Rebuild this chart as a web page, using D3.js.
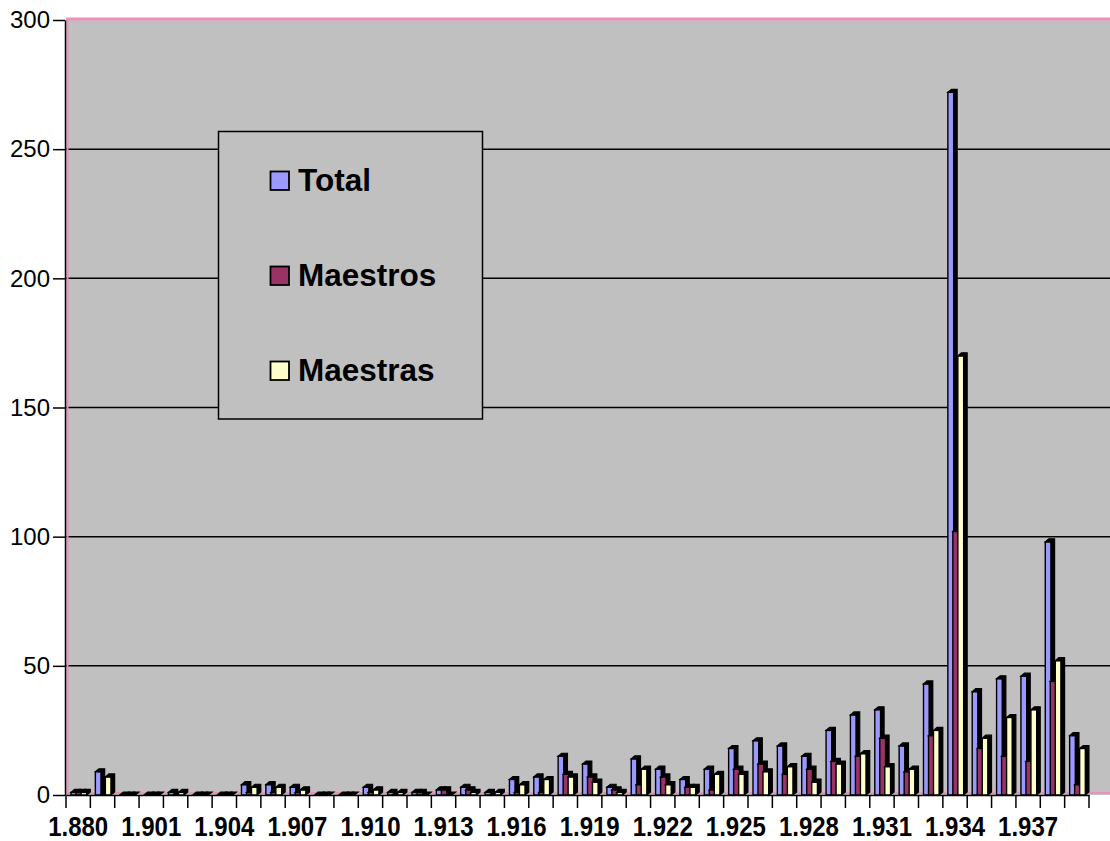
<!DOCTYPE html>
<html>
<head>
<meta charset="utf-8">
<script src="https://cdn.jsdelivr.net/npm/d3@7"></script>
<style>
  body { margin: 0; background: #fff; }
  text { font-family: "Liberation Sans", Arial, sans-serif; }
</style>
</head>
<body>
<div id="chart"></div>
<script>
// categories (years) - the two after 1.880 are not labelled in the picture
var years = ["1.880", "1.890", "1.900", "1.901", "1.902", "1.903", "1.904", "1.905", "1.906", "1.907",
             "1.908", "1.909", "1.910", "1.911", "1.912", "1.913", "1.914", "1.915", "1.916", "1.917",
             "1.918", "1.919", "1.920", "1.921", "1.922", "1.923", "1.924", "1.925", "1.926", "1.927",
             "1.928", "1.929", "1.930", "1.931", "1.932", "1.933", "1.934", "1.935", "1.936", "1.937",
             "1.938", "1.939"];

// series values
var total    = [1, 9, 0, 0, 1, 0, 0, 4, 4, 3, 0, 0, 3, 1, 1, 2, 3, 1, 6, 7,
                15, 12, 3, 14, 10, 6, 10, 18, 21, 19, 15, 25, 31, 33, 19, 43, 272, 40, 45, 46,
                98, 23];
var maestros = [1, 0, 0, 0, 0, 0, 0, 1, 1, 1, 0, 0, 1, 0, 1, 2, 2, 0, 1, 1,
                8, 7, 2, 4, 7, 3, 2, 10, 12, 8, 10, 13, 15, 22, 9, 23, 102, 18, 15, 13,
                44, 4];
var maestras = [1, 7, 0, 0, 1, 0, 0, 3, 3, 2, 0, 0, 2, 1, 0, 0, 1, 1, 4, 6,
                7, 5, 1, 10, 4, 3, 8, 8, 9, 11, 5, 12, 16, 11, 10, 25, 170, 22, 30, 33,
                52, 18];

var seriesNames = ["Total", "Maestros", "Maestras"];
var colors = ["#9999ff", "#993366", "#ffffcc"];
var yTicks = [0, 50, 100, 150, 200, 250, 300];

var width = 1110, height = 841;
// plot area
var plotL = 66, plotR = 1089, plotT = 20, plotB = 795;

var svg = d3.select("#chart")
  .append("svg")
    .attr("width", width)
    .attr("height", height);

var x = d3.scaleBand()
  .domain(years)
  .range([plotL, plotR])
  .padding(0);

var y = d3.scaleLinear()
  .domain([0, 300])
  .range([plotB, plotT]);

// grey wall, runs on to the right edge
svg.append("rect")
  .attr("x", plotL)
  .attr("y", plotT)
  .attr("width", width - plotL)
  .attr("height", plotB - plotT)
  .attr("fill", "#c0c0c0");

// gridlines
svg.append("g")
  .selectAll("line")
  .data(yTicks.slice(1, -1))
  .enter()
  .append("line")
    .attr("x1", plotL)
    .attr("x2", width)
    .attr("y1", function(d) { return y(d); })
    .attr("y2", function(d) { return y(d); })
    .attr("stroke", "#000")
    .attr("stroke-width", 1.5);

// pink borders of the wall and floor
var pink = "#ee8fc0";
svg.append("line").attr("x1", plotL).attr("x2", width).attr("y1", plotT - 1).attr("y2", plotT - 1)
  .attr("stroke", pink).attr("stroke-width", 3);
svg.append("line").attr("x1", plotL + 1.5).attr("x2", plotL + 1.5).attr("y1", plotT).attr("y2", plotB)
  .attr("stroke", pink).attr("stroke-width", 2);
svg.append("line").attr("x1", plotL).attr("x2", width).attr("y1", plotB - 2).attr("y2", plotB - 2)
  .attr("stroke", pink).attr("stroke-width", 2);

// legend
var legend = svg.append("g");
legend.append("rect")
  .attr("x", 218.5)
  .attr("y", 131.5)
  .attr("width", 264)
  .attr("height", 287.5)
  .attr("fill", "#c0c0c0")
  .attr("stroke", "#000")
  .attr("stroke-width", 1.5);
var item = legend.selectAll("g.item")
  .data(seriesNames)
  .enter()
  .append("g")
    .attr("class", "item")
    .attr("transform", function(d, i) { return "translate(0," + (i * 95) + ")"; });
item.append("rect")
  .attr("x", 270.5)
  .attr("y", 171.5)
  .attr("width", 18.5)
  .attr("height", 18.5)
  .attr("fill", function(d, i) { return colors[i]; })
  .attr("stroke", "#000")
  .attr("stroke-width", 1.8);
item.append("text")
  .attr("x", 298)
  .attr("y", 191)
  .attr("font-size", "31.5px")
  .attr("font-weight", "bold")
  .text(function(d) { return d; });

// bars as flat rows
var data = [];
years.forEach(function(yr, i) {
  [total, maestros, maestras].forEach(function(vals, s) {
    data.push({ year: yr, s: s, value: vals[i] });
  });
});

var sub = d3.scaleBand().domain([0, 1, 2]).range([5, 20]);
var fw = sub.bandwidth() + 0.8, dx = 3.5, dy = 3;

var bar = svg.append("g")
  .selectAll("g")
  .data(data)
  .enter()
  .append("g");

bar.append("rect")
  .attr("x", function(d) { return x(d.year) + sub(d.s); })
  .attr("y", function(d) { return y(d.value); })
  .attr("width", fw)
  .attr("height", function(d) { return y(0) - y(d.value); })
  .attr("fill", function(d) { return colors[d.s]; })
  .attr("stroke", "#000")
  .attr("stroke-width", 1.4);

// dark side + top faces
bar.append("path")
  .attr("d", function(d) {
    var x0 = x(d.year) + sub(d.s), x1 = x0 + fw, yt = y(d.value), yb = y(0);
    return "M" + x0 + "," + yt + "L" + (x0 + dx) + "," + (yt - dy) +
           "L" + (x1 + dx) + "," + (yt - dy) + "L" + (x1 + dx) + "," + (yb - dy) +
           "L" + x1 + "," + yb + "L" + x1 + "," + yt + "Z";
  })
  .attr("fill", "#000")
  .attr("stroke", "#000")
  .attr("stroke-width", 1.2);

// Y axis
var yAxis = svg.append("g")
  .attr("transform", "translate(" + (plotL - 1) + ",0)")
  .call(d3.axisLeft(y).tickValues(yTicks).tickSize(12).tickSizeOuter(0).tickPadding(3));
yAxis.selectAll("text").attr("font-size", "24px").attr("font-family", null).attr("fill", "#000");
yAxis.selectAll("line, path").attr("stroke", "#000").attr("stroke-width", 1.5);

// X axis, labels every third year (a bit stretched upright like the original)
var xAxis = svg.append("g")
  .attr("transform", "translate(0," + plotB + ")")
  .call(d3.axisBottom(x).tickSize(0).tickPadding(20)
    .tickFormat(function(d, i) { return i % 3 === 0 ? d : ""; }));
xAxis.selectAll("text").attr("font-size", "24px").attr("font-weight", "bold")
  .attr("font-family", null).attr("fill", "#000")
  .attr("transform", "scale(1,1.12)");
xAxis.select("path").attr("stroke", "#000").attr("stroke-width", 1.5);

// tick marks sit on the category borders
xAxis.selectAll("line.border")
  .data(years.map(function(d) { return x(d); }).concat([plotR]))
  .enter()
  .append("line")
    .attr("class", "border")
    .attr("x1", function(d) { return d; })
    .attr("x2", function(d) { return d; })
    .attr("y1", 0)
    .attr("y2", 13)
    .attr("stroke", "#000")
    .attr("stroke-width", 1.5);
</script>
</body>
</html>
